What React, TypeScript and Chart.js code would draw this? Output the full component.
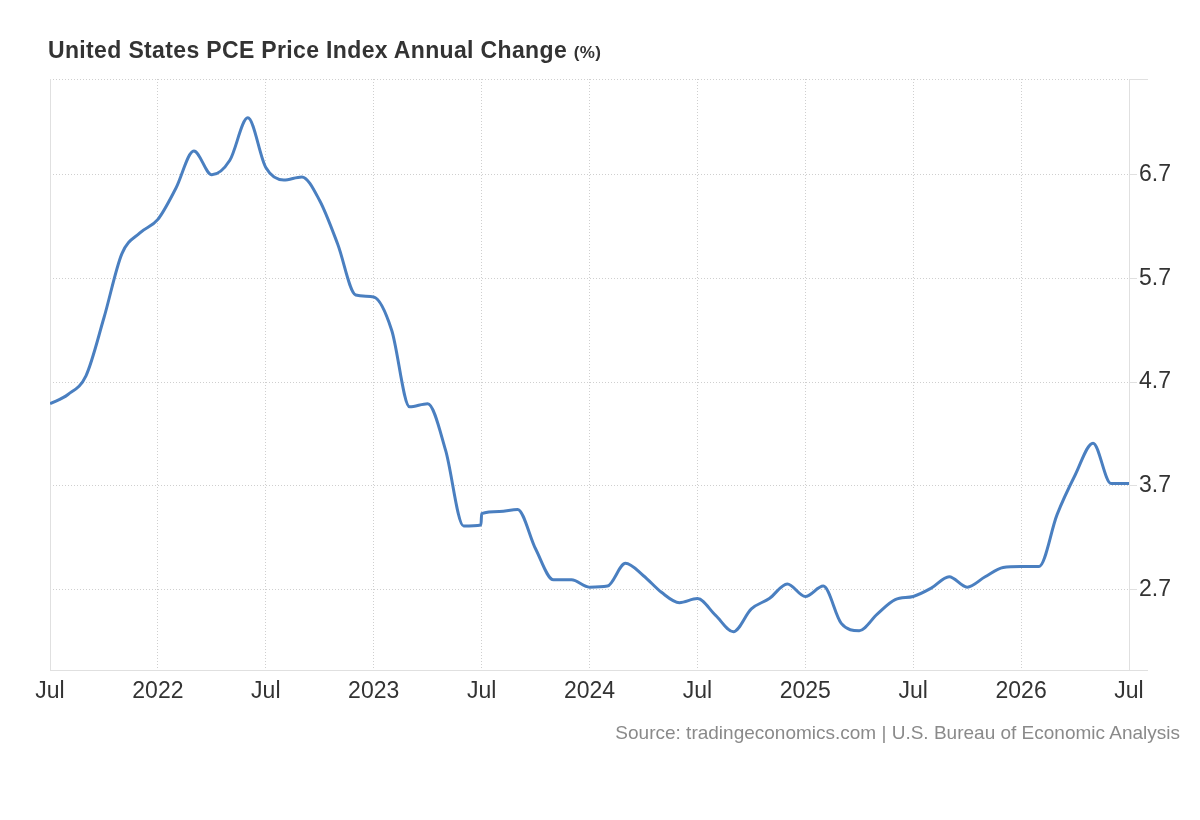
import React, { useEffect, useRef } from "react";
import { Chart, registerables } from "chart.js";

Chart.register(...registerables);

const titleText = "United States PCE Price Index Annual Change";
const titleUnit = "(%)";
const sourceText = "Source: tradingeconomics.com | U.S. Bureau of Economic Analysis";

// monthly observations (one extra point on 2023-06-30 reproduces the step in July 2023)
const periods = [
  "2021-07", "2021-08", "2021-09", "2021-10", "2021-11", "2021-12",
  "2022-01", "2022-02", "2022-03", "2022-04", "2022-05", "2022-06",
  "2022-07", "2022-08", "2022-09", "2022-10", "2022-11", "2022-12",
  "2023-01", "2023-02", "2023-03", "2023-04", "2023-05", "2023-06", "2023-06-30",
  "2023-07", "2023-08", "2023-09", "2023-10", "2023-11", "2023-12",
  "2024-01", "2024-02", "2024-03", "2024-04", "2024-05", "2024-06",
  "2024-07", "2024-08", "2024-09", "2024-10", "2024-11", "2024-12",
  "2025-01", "2025-02", "2025-03", "2025-04", "2025-05", "2025-06",
  "2025-07", "2025-08", "2025-09", "2025-10", "2025-11", "2025-12",
  "2026-01", "2026-02", "2026-03", "2026-04", "2026-05", "2026-06",
  "2026-07",
];

const pceValues = [
  4.49, 4.58, 4.76, 5.32, 5.94, 6.14,
  6.27, 6.57, 6.93, 6.7, 6.84, 7.25,
  6.77, 6.65, 6.68, 6.45, 6.03, 5.54,
  5.52, 5.2, 4.46, 4.49, 4.04, 3.31, 3.32,
  3.43, 3.45, 3.47, 3.09, 2.79, 2.79,
  2.72, 2.73, 2.95, 2.83, 2.67, 2.57,
  2.61, 2.45, 2.29, 2.51, 2.61, 2.75,
  2.63, 2.73, 2.37, 2.3, 2.46, 2.6,
  2.63, 2.71, 2.82, 2.72, 2.82, 2.91,
  2.92, 2.92, 3.42, 3.8, 4.11, 3.72,
  3.72,
];

const xTickPeriods = [
  "2021-07", "2022-01", "2022-07", "2023-01", "2023-07", "2024-01",
  "2024-07", "2025-01", "2025-07", "2026-01", "2026-07",
];
const xTickLabels = ["Jul", "2022", "Jul", "2023", "Jul", "2024", "Jul", "2025", "Jul", "2026", "Jul"];
const yTickValues = [2.7, 3.7, 4.7, 5.7, 6.7];
const yMin = 1.92;
const yMax = 7.625;

const FONT = "'Liberation Sans', Arial, Helvetica, sans-serif";

function monthIndex(p: string): number {
  const [y, m, d] = p.split("-").map(Number);
  const base = (y - 2021) * 12 + (m - 7);
  return d ? base + (d - 1) / 30 : base;
}

const edgeLines = {
  id: "edgeLines",
  afterDraw(chart: any) {
    const { ctx, chartArea } = chart;
    ctx.save();
    ctx.strokeStyle = "#e0e0e0";
    ctx.lineWidth = 1;
    ctx.beginPath();
    ctx.moveTo(chartArea.right, chartArea.top + 0.5);
    ctx.lineTo(chartArea.right + 19, chartArea.top + 0.5);
    ctx.moveTo(chartArea.right, chartArea.bottom + 0.5);
    ctx.lineTo(chartArea.right + 19, chartArea.bottom + 0.5);
    ctx.stroke();
    ctx.restore();
  },
};

export default function App() {
  const ref = useRef<HTMLCanvasElement | null>(null);

  useEffect(() => {
    if (!ref.current) return;
    const points = periods.map((p, i) => ({ x: monthIndex(p), y: pceValues[i] }));
    const xTicks = xTickPeriods.map(monthIndex);
    const chart = new Chart(ref.current, {
      type: "line",
      data: {
        datasets: [
          {
            data: points,
            borderColor: "#4a7fc0",
            borderWidth: 3,
            pointRadius: 0,
            cubicInterpolationMode: "monotone",
            fill: false,
          },
        ],
      },
      plugins: [edgeLines],
      options: {
        animation: false,
        responsive: false,
        events: [],
        layout: { padding: { left: 50, top: 79, right: 0, bottom: 0 } },
        plugins: { legend: { display: false }, tooltip: { enabled: false }, title: { display: false } },
        scales: {
          x: {
            type: "linear",
            min: xTicks[0],
            max: xTicks[xTicks.length - 1],
            afterBuildTicks: (scale: any) => {
              scale.ticks = xTicks.map((v) => ({ value: v }));
            },
            afterFit: (scale: any) => {
              scale.height = 150;
            },
            ticks: {
              autoSkip: false,
              maxRotation: 0,
              padding: 8,
              color: "#333333",
              font: { family: FONT, size: 23 },
              callback: (_v: any, i: number) => xTickLabels[i],
            },
            grid: { color: "#cfcfcf", lineWidth: 1, drawTicks: false },
            border: { display: true, color: "#e0e0e0", width: 1, dash: [1, 2] },
          },
          y: {
            type: "linear",
            position: "right",
            min: yMin,
            max: yMax,
            afterBuildTicks: (scale: any) => {
              scale.ticks = [...yTickValues, yMax].map((v) => ({ value: v }));
            },
            afterFit: (scale: any) => {
              scale.width = 71;
            },
            ticks: {
              padding: 2,
              color: "#333333",
              font: { family: FONT, size: 23 },
              callback: (v: any, i: number) => (i < yTickValues.length ? Number(v).toFixed(1) : ""),
            },
            grid: { color: "#cfcfcf", lineWidth: 1, tickLength: 8, tickColor: "#e0e0e0", tickBorderDash: [] },
            border: { display: true, color: "#e0e0e0", width: 1, dash: [1, 2] },
          },
          yLeft: {
            type: "linear",
            position: "left",
            min: yMin,
            max: yMax,
            afterFit: (scale: any) => {
              scale.width = 0;
            },
            ticks: { display: false },
            grid: { drawOnChartArea: false, drawTicks: false },
            border: { display: true, color: "#e0e0e0", width: 1 },
          },
        },
      },
    } as any);
    return () => chart.destroy();
  }, []);

  return (
    <div style={{ position: "fixed", left: 0, top: 0, width: 1200, height: 820, background: "#ffffff" }}>
      <canvas ref={ref} width={1200} height={820} style={{ position: "absolute", left: 0, top: 0 }} />
      <div
        style={{
          position: "absolute",
          left: 48,
          top: 39,
          fontFamily: FONT,
          fontWeight: "bold",
          fontSize: 23,
          lineHeight: "23px",
          letterSpacing: "0.35px",
          color: "#333333",
          whiteSpace: "nowrap",
        }}
      >
        {titleText} <span style={{ fontSize: 17, letterSpacing: "0.3px" }}>{titleUnit}</span>
      </div>
      <div
        style={{
          position: "absolute",
          right: 20,
          top: 723,
          fontFamily: FONT,
          fontSize: 19,
          lineHeight: "19px",
          color: "#8a8a8a",
          whiteSpace: "nowrap",
        }}
      >
        {sourceText}
      </div>
    </div>
  );
}
